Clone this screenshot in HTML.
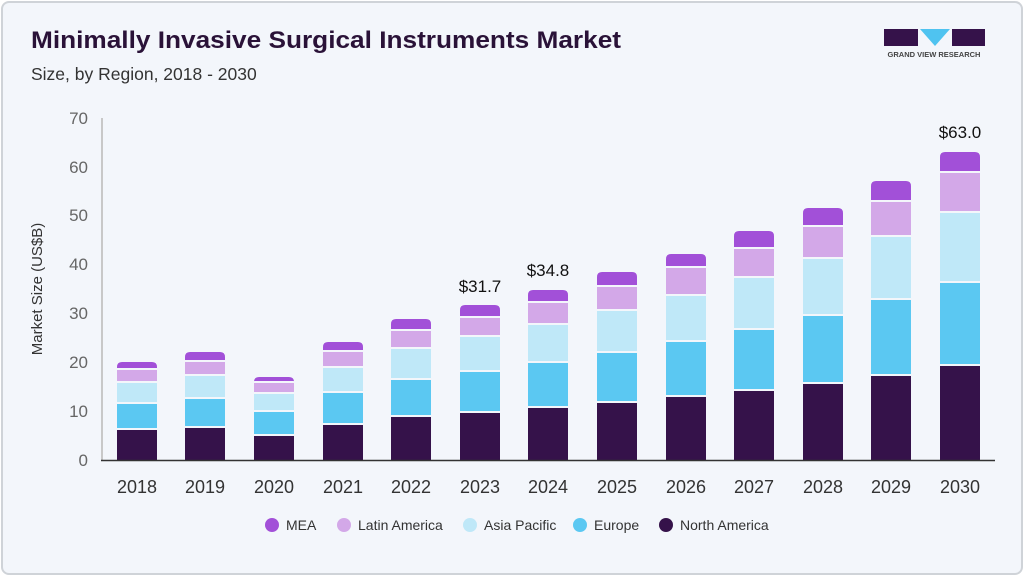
<!DOCTYPE html>
<html><head><meta charset="utf-8"><style>
body{margin:0;width:1024px;height:576px;background:#fff;font-family:"Liberation Sans",sans-serif;overflow:hidden}
.card{position:absolute;left:1px;top:1px;width:1018px;height:570px;background:#f3f6fb;border:2px solid #cfd3d8;border-radius:8px}
</style></head><body>
<div class="card"></div>
<svg width="1024" height="576" style="position:absolute;left:0;top:0" font-family="Liberation Sans, sans-serif">
<text x="31" y="48" font-size="24" font-weight="bold" fill="#2a1238" textLength="590" lengthAdjust="spacingAndGlyphs">Minimally Invasive Surgical Instruments Market</text>
<text x="31" y="80" font-size="17.5" fill="#333">Size, by Region, 2018 - 2030</text>
<rect x="884" y="29" width="34" height="17" fill="#35124a"/>
<polygon points="920,29 950,29 935,46" fill="#4fc3f0"/>
<rect x="952" y="29" width="33" height="17" fill="#35124a"/>
<text x="934" y="57" font-size="7.5" font-weight="bold" fill="#444" text-anchor="middle">GRAND VIEW RESEARCH</text>
<g font-size="17" fill="#666" text-anchor="end">
<text x="88" y="466">0</text><text x="88" y="417">10</text><text x="88" y="368">20</text><text x="88" y="319">30</text><text x="88" y="270">40</text><text x="88" y="221">50</text><text x="88" y="173">60</text><text x="88" y="124">70</text>
</g>
<text transform="translate(42,289) rotate(-90)" font-size="15" fill="#333" text-anchor="middle">Market Size (US$B)</text>
<line x1="102" y1="118" x2="102" y2="460" stroke="#c8c8c8" stroke-width="2"/>
<g id="bars"></g>
<line x1="101" y1="460.5" x2="995" y2="460.5" stroke="#333" stroke-width="1.5"/>
<g font-size="18" fill="#333" text-anchor="middle">
<text x="137" y="493">2018</text><text x="205" y="493">2019</text><text x="274" y="493">2020</text><text x="343" y="493">2021</text><text x="411" y="493">2022</text><text x="480" y="493">2023</text><text x="548" y="493">2024</text><text x="617" y="493">2025</text><text x="686" y="493">2026</text><text x="754" y="493">2027</text><text x="823" y="493">2028</text><text x="891" y="493">2029</text><text x="960" y="493">2030</text>
<text x="480" y="292" font-size="17" fill="#111">$31.7</text>
<text x="548" y="276" font-size="17" fill="#111">$34.8</text>
<text x="960" y="138" font-size="17" fill="#111">$63.0</text>
</g>
<g font-size="14" fill="#333">
<circle cx="272" cy="525" r="7" fill="#a250d8"/><text x="286" y="530">MEA</text>
<circle cx="344" cy="525" r="7" fill="#d3a8e8"/><text x="358" y="530">Latin America</text>
<circle cx="470" cy="525" r="7" fill="#bfe8f8"/><text x="484" y="530">Asia Pacific</text>
<circle cx="580" cy="525" r="7" fill="#5bc8f2"/><text x="594" y="530">Europe</text>
<circle cx="666" cy="525" r="7" fill="#35124a"/><text x="680" y="530">North America</text>
</g>
</svg>
<script>
var xs=[137,205,274,343,411,480,548,617,686,754,823,891,960];
var d=[[430,404,383,370,362],[428,399,376,362,352],[436,412,394,383,377],[425,393,368,352,342],[417,380,349,331,319],[413,372,337,318,305],[408,363,325,303,290],[403,353,311,287,272],[397,342,296,268,254],[391,330,278,249,231],[384,316,259,227,208],[376,300,237,202,181],[366,283,213,173,152]];
var c=["#35124a","#5bc8f2","#bfe8f8","#d3a8e8","#a250d8"];
var s="";
for(var i=0;i<13;i++){var b=460,x=xs[i]-20;for(var k=0;k<5;k++){var t=d[i][k];var h=b-t-(k>0?1.5:0);
if(k<4)s+='<rect x="'+x+'" y="'+t+'" width="40" height="'+h+'" fill="'+c[k]+'"/>';
else s+='<path d="M'+x+','+(t+h)+'V'+(t+5)+'Q'+x+','+t+' '+(x+5)+','+t+'H'+(x+35)+'Q'+(x+40)+','+t+' '+(x+40)+','+(t+5)+'V'+(t+h)+'Z" fill="'+c[k]+'"/>';
b=t-0.5;}}
document.getElementById("bars").innerHTML=s;
</script>
</body></html>
